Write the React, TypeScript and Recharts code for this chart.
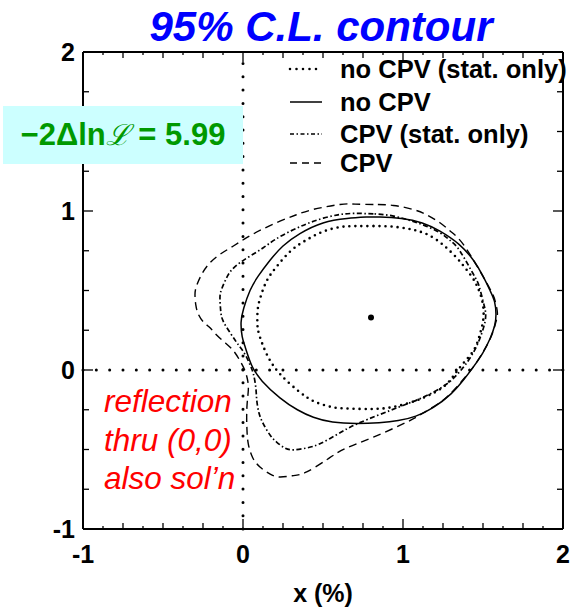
import { ComposedChart, Line, XAxis, YAxis, ReferenceLine, ReferenceDot, Legend } from 'recharts';

const FONT = '"Liberation Sans", Arial, Helvetica, sans-serif';

const xTicks = [-1, -0.875, -0.75, -0.625, -0.5, -0.375, -0.25, -0.125, 0, 0.125, 0.25, 0.375, 0.5, 0.625, 0.75, 0.875, 1, 1.125, 1.25, 1.375, 1.5, 1.625, 1.75, 1.875, 2];
const yTicks = [-1, -0.75, -0.5, -0.25, 0, 0.25, 0.5, 0.75, 1, 1.25, 1.5, 1.75, 2];
const bestFit = { x: 0.8, y: 0.33 };

// contours, (x, y) pairs going round each loop
const noCpvStat: [number, number][] = [
  [0.815, 0.905], [0.7, 0.905], [0.606, 0.899], [0.5, 0.87], [0.4, 0.82], [0.3, 0.75], [0.21, 0.65],
  [0.148, 0.56], [0.11, 0.46], [0.092, 0.38], [0.09, 0.29], [0.102, 0.22], [0.148, 0.1], [0.231, -0.025],
  [0.356, -0.14], [0.45, -0.2], [0.55, -0.232], [0.65, -0.242], [0.815, -0.245], [0.94, -0.232],
  [1.06, -0.2], [1.17, -0.155], [1.273, -0.088], [1.356, 0.017], [1.44, 0.121], [1.481, 0.226],
  [1.503, 0.33], [1.494, 0.44], [1.462, 0.53], [1.419, 0.602], [1.315, 0.727], [1.19, 0.832],
  [1.1, 0.872], [1.023, 0.89], [0.92, 0.903], [0.815, 0.905],
];

const noCpv: [number, number][] = [
  [0.77, 0.962], [0.65, 0.953], [0.5, 0.925], [0.356, 0.858], [0.25, 0.78], [0.169, 0.69], [0.095, 0.59],
  [0.044, 0.5], [0.005, 0.39], [-0.012, 0.3], [-0.005, 0.21], [0.015, 0.14], [0.054, 0.03], [0.12, -0.07],
  [0.231, -0.175], [0.34, -0.25], [0.44, -0.297], [0.56, -0.327], [0.71, -0.336], [0.85, -0.331],
  [0.97, -0.318], [1.08, -0.29], [1.19, -0.235], [1.3, -0.15], [1.38, -0.06], [1.44, 0.02], [1.5, 0.11],
  [1.545, 0.2], [1.573, 0.28], [1.581, 0.35], [1.572, 0.43], [1.544, 0.5], [1.5, 0.59], [1.44, 0.69],
  [1.35, 0.79], [1.231, 0.873], [1.12, 0.925], [0.99, 0.953], [0.856, 0.962], [0.77, 0.962],
];

const cpvStat: [number, number][] = [
  [0.815, 0.982], [0.7, 0.985], [0.606, 0.978], [0.502, 0.955], [0.4, 0.92], [0.3, 0.875], [0.2, 0.82],
  [0.127, 0.769], [0.05, 0.72], [-0.019, 0.675], [-0.07, 0.63], [-0.102, 0.581], [-0.133, 0.51],
  [-0.144, 0.456], [-0.14, 0.38], [-0.125, 0.31], [-0.075, 0.226], [-0.03, 0.16], [0.012, 0.1],
  [0.045, 0.03], [0.065, -0.025], [0.08, -0.11], [0.086, -0.19], [0.1, -0.27], [0.127, -0.339],
  [0.17, -0.41], [0.21, -0.453], [0.26, -0.49], [0.315, -0.502], [0.4, -0.49], [0.481, -0.464],
  [0.58, -0.41], [0.669, -0.36], [0.78, -0.31], [0.919, -0.255], [1.02, -0.215], [1.127, -0.171],
  [1.273, -0.088], [1.377, 0.017], [1.44, 0.11], [1.481, 0.2], [1.512, 0.3], [1.515, 0.37],
  [1.5, 0.434], [1.475, 0.53], [1.44, 0.602], [1.356, 0.748], [1.3, 0.81], [1.231, 0.863],
  [1.12, 0.915], [1.023, 0.947], [0.92, 0.972], [0.815, 0.982],
];

const cpv: [number, number][] = [
  [0.815, 1.041], [0.7, 1.043], [0.606, 1.041], [0.44, 1.01], [0.33, 0.975], [0.231, 0.936], [0.12, 0.885],
  [0.023, 0.832], [-0.06, 0.78], [-0.144, 0.727], [-0.21, 0.67], [-0.258, 0.602], [-0.29, 0.53],
  [-0.3, 0.476], [-0.295, 0.41], [-0.279, 0.351], [-0.245, 0.3], [-0.206, 0.265], [-0.165, 0.22],
  [-0.11, 0.17], [-0.06, 0.121], [-0.02, 0.06], [0.012, -0.004], [0.03, -0.07], [0.033, -0.13],
  [0.026, -0.21], [0.023, -0.297], [0.025, -0.38], [0.033, -0.464], [0.06, -0.55], [0.106, -0.61],
  [0.17, -0.655], [0.231, -0.673], [0.31, -0.665], [0.398, -0.641], [0.53, -0.56], [0.638, -0.495],
  [0.815, -0.422], [1.023, -0.328], [1.127, -0.27], [1.25, -0.19], [1.35, -0.09], [1.44, 0.02],
  [1.51, 0.13], [1.555, 0.22], [1.58, 0.3], [1.59, 0.36], [1.577, 0.43], [1.554, 0.49], [1.481, 0.622],
  [1.377, 0.79], [1.3, 0.87], [1.231, 0.926], [1.15, 0.975], [1.065, 1.009], [0.94, 1.035], [0.815, 1.041],
];

const series = [
  { name: 'no CPV (stat. only)', pts: noCpvStat, dash: '0 6', legendDash: '0 6.5', width: 2.6, round: true },
  { name: 'no CPV', pts: noCpv, dash: undefined, legendDash: undefined, width: 1.5, round: false },
  { name: 'CPV (stat. only)', pts: cpvStat, dash: '5 2.5 1.5 2.5', legendDash: '4 2.5 1.5 2.5', width: 1.7, round: false },
  { name: 'CPV', pts: cpv, dash: '8 5', legendDash: '7 5', width: 1.4, round: false },
];

const toXY = (pts: [number, number][]) => pts.map(([x, y]) => ({ x, y }));

const tickLen = (v: number) =>
  Number.isInteger(v) ? 10 : Math.abs(v * 4 - Math.round(v * 4)) < 1e-9 ? 6 : 3;

const labelStyle = { fontSize: 25, fontWeight: 'bold' as const, fontFamily: FONT, fill: '#000' };

const BottomTick = ({ x, y, payload }: any) => (
  <g>
    <line x1={x} y1={y} x2={x} y2={y - tickLen(payload.value)} stroke="#000" strokeWidth={1.3} />
    {Number.isInteger(payload.value) && (
      <text x={x} y={y + 34} textAnchor="middle" {...labelStyle}>{String(payload.value)}</text>
    )}
  </g>
);

const TopTick = ({ x, y, payload }: any) => (
  <line x1={x} y1={y} x2={x} y2={y + tickLen(payload.value)} stroke="#000" strokeWidth={1.3} />
);

const LeftTick = ({ x, y, payload }: any) => (
  <g>
    <line x1={x} y1={y} x2={x + tickLen(payload.value)} y2={y} stroke="#000" strokeWidth={1.3} />
    {Number.isInteger(payload.value) && (
      <text x={x - 8} y={y + 9} textAnchor="end" {...labelStyle}>{String(payload.value)}</text>
    )}
  </g>
);

const RightTick = ({ x, y, payload }: any) => (
  <line x1={x} y1={y} x2={x - tickLen(payload.value)} y2={y} stroke="#000" strokeWidth={1.3} />
);

const rowY = [19, 52, 84, 113];

const renderLegend = () => (
  <svg width={291} height={125} style={{ overflow: 'visible' }}>
    {series.map((s, i) => (
      <g key={s.name}>
        <line
          x1={5} x2={37} y1={rowY[i]} y2={rowY[i]}
          stroke="#000" strokeWidth={s.width}
          strokeDasharray={s.legendDash}
          strokeLinecap={s.round ? 'round' : 'butt'}
        />
        <text x={55} y={rowY[i] + 9} {...labelStyle} fontSize={25.5}>{s.name}</text>
      </g>
    ))}
  </svg>
);

export default function App() {
  return (
    <div style={{ position: 'absolute', left: 0, top: 0, width: 576, height: 607, fontFamily: FONT, background: '#fff' }}>
      <ComposedChart width={576} height={607} margin={{ top: 42, right: 3, bottom: 38, left: 43 }}>
        <XAxis
          xAxisId="b" type="number" dataKey="x" domain={[-1, 2]} allowDataOverflow
          ticks={xTicks} interval={0} height={40} tickSize={0} tickMargin={0}
          tickLine={false} axisLine={{ stroke: '#000', strokeWidth: 2 }} tick={BottomTick}
        />
        <XAxis
          xAxisId="t" orientation="top" type="number" dataKey="x" domain={[-1, 2]} allowDataOverflow
          ticks={xTicks} interval={0} height={10} tickSize={0} tickMargin={0}
          tickLine={false} axisLine={{ stroke: '#000', strokeWidth: 2 }} tick={TopTick}
        />
        <YAxis
          yAxisId="l" type="number" domain={[-1, 2]} allowDataOverflow
          ticks={yTicks} interval={0} width={40} tickSize={0} tickMargin={0}
          tickLine={false} axisLine={{ stroke: '#000', strokeWidth: 2 }} tick={LeftTick}
        />
        <YAxis
          yAxisId="r" orientation="right" type="number" domain={[-1, 2]} allowDataOverflow
          ticks={yTicks} interval={0} width={10} tickSize={0} tickMargin={0}
          tickLine={false} axisLine={{ stroke: '#000', strokeWidth: 2 }} tick={RightTick}
        />
        <ReferenceLine
          xAxisId="b" yAxisId="l" x={0} stroke="#000" strokeWidth={3}
          strokeDasharray="0 13.3" strokeLinecap="round"
        />
        <ReferenceLine
          xAxisId="b" yAxisId="l" y={0} stroke="#000" strokeWidth={3}
          strokeDasharray="0 13.33" strokeLinecap="round"
        />
        {series.map((s) => (
          <Line
            key={s.name}
            name={s.name}
            xAxisId="b"
            yAxisId="l"
            data={toXY(s.pts)}
            dataKey="y"
            type="natural"
            stroke="#000"
            strokeWidth={s.width}
            strokeDasharray={s.dash}
            strokeLinecap={s.round ? 'round' : 'butt'}
            dot={false}
            activeDot={false}
            isAnimationActive={false}
          />
        ))}
        <ReferenceDot xAxisId="b" yAxisId="l" x={bestFit.x} y={bestFit.y} r={3} fill="#000" stroke="none" />
        <Legend
          layout="vertical" align="center" verticalAlign="middle"
          content={renderLegend}
          wrapperStyle={{ left: 285, top: 50, width: 291, height: 125 }}
        />
      </ComposedChart>

      <div style={{
        position: 'absolute', left: 321, top: 6, transform: 'translateX(-50%)', whiteSpace: 'nowrap',
        fontSize: 42, lineHeight: '42px', fontWeight: 'bold', fontStyle: 'italic', color: '#0000ff',
      }}>
        95% C.L. contour
      </div>

      <div style={{
        position: 'absolute', left: 3, top: 106, width: 240, height: 58, background: '#ccffff',
        display: 'flex', alignItems: 'center', justifyContent: 'center',
        fontSize: 31, lineHeight: '31px', fontWeight: 'bold', color: '#009900', whiteSpace: 'nowrap',
      }}>
        <span>−2Δln<span style={{ fontWeight: 'normal', fontStyle: 'italic', fontSize: 29 }}>ℒ</span> = 5.99</span>
      </div>

      <div style={{
        position: 'absolute', left: 104, top: 382, fontSize: 31.5, lineHeight: '38.5px',
        fontStyle: 'italic', color: '#ff0000', whiteSpace: 'nowrap',
      }}>
        <div>reflection</div>
        <div>thru (0,0)</div>
        <div>also sol’n</div>
      </div>

      <div style={{
        position: 'absolute', left: 323, top: 581, transform: 'translateX(-50%)', whiteSpace: 'nowrap',
        fontSize: 25, lineHeight: '25px', fontWeight: 'bold', color: '#000',
      }}>
        x (%)
      </div>
    </div>
  );
}
